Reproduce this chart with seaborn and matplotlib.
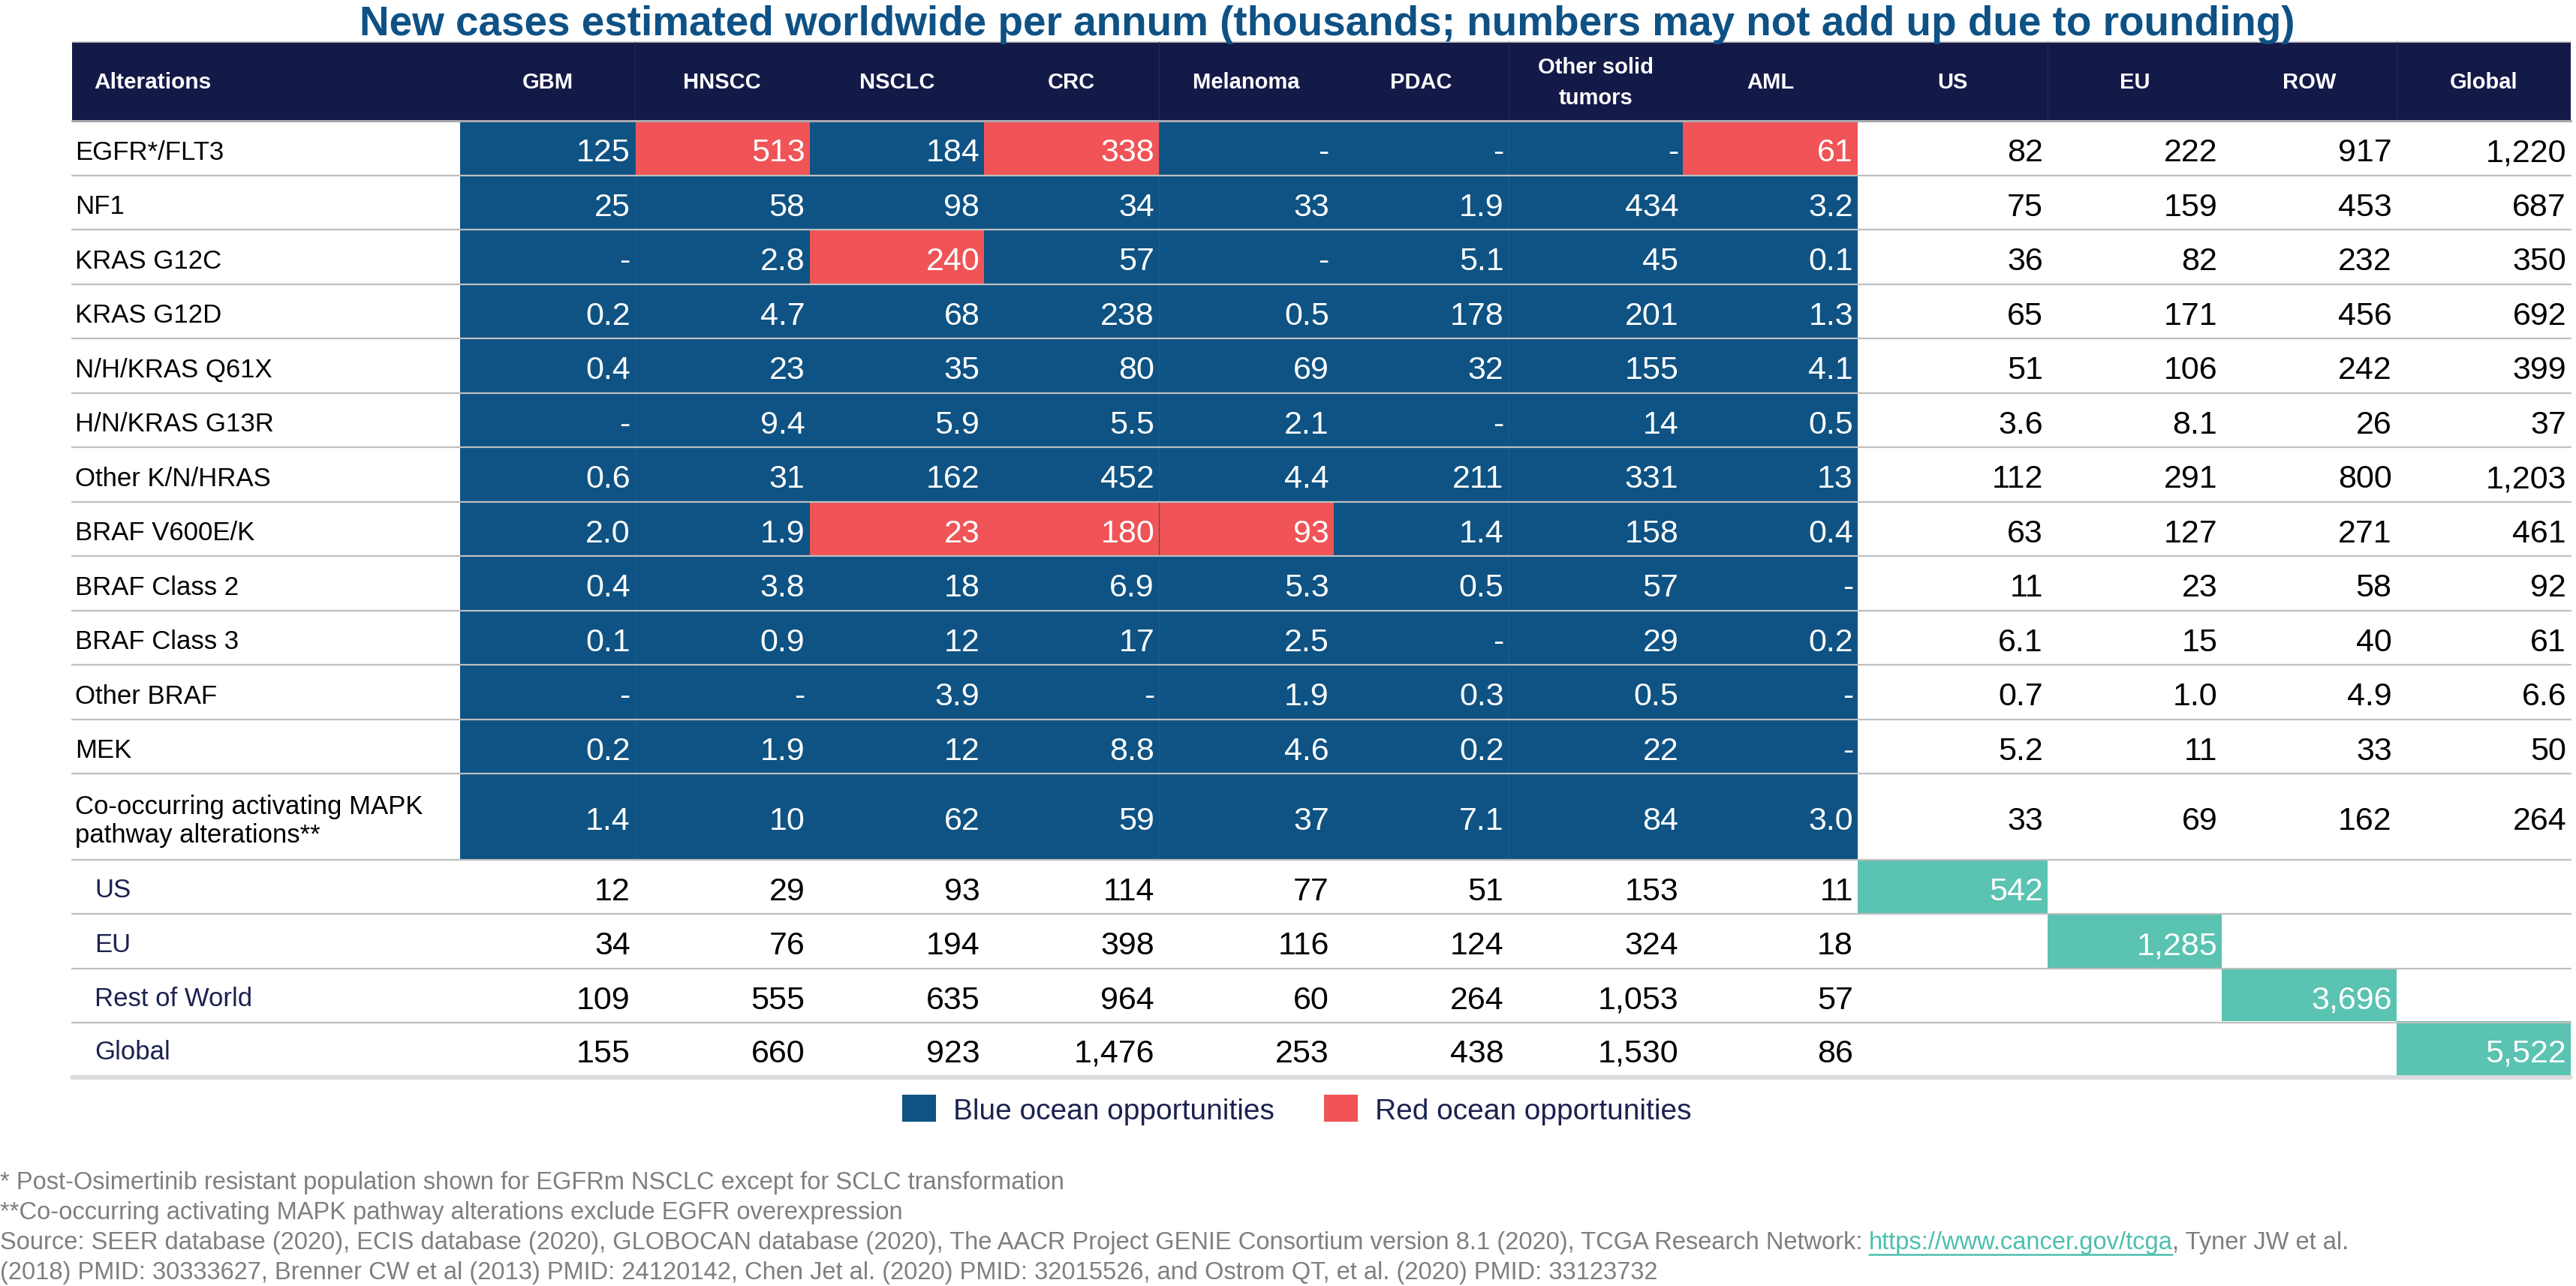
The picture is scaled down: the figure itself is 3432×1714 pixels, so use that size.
import matplotlib
matplotlib.use("Agg")
import matplotlib.pyplot as plt
import seaborn as sns
import numpy as np
import pandas as pd
from matplotlib.colors import ListedColormap
from matplotlib.patches import Rectangle, Patch
from matplotlib import font_manager

# ---- data (thousands of new cases per annum) ----
tumors = ["GBM", "HNSCC", "NSCLC", "CRC", "Melanoma", "PDAC", "Other solid\ntumors", "AML"]
regions = ["US", "EU", "ROW", "Global"]
alterations = ["EGFR*/FLT3", "NF1", "KRAS G12C", "KRAS G12D", "N/H/KRAS Q61X", "H/N/KRAS G13R",
               "Other K/N/HRAS", "BRAF V600E/K", "BRAF Class 2", "BRAF Class 3", "Other BRAF", "MEK",
               "Co-occurring activating MAPK\npathway alterations**"]
nan = np.nan
tumor_cases = [
    [125, 513, 184, 338, nan, nan, nan, 61],
    [25, 58, 98, 34, 33, 1.9, 434, 3.2],
    [nan, 2.8, 240, 57, nan, 5.1, 45, 0.1],
    [0.2, 4.7, 68, 238, 0.5, 178, 201, 1.3],
    [0.4, 23, 35, 80, 69, 32, 155, 4.1],
    [nan, 9.4, 5.9, 5.5, 2.1, nan, 14, 0.5],
    [0.6, 31, 162, 452, 4.4, 211, 331, 13],
    [2.0, 1.9, 23, 180, 93, 1.4, 158, 0.4],
    [0.4, 3.8, 18, 6.9, 5.3, 0.5, 57, nan],
    [0.1, 0.9, 12, 17, 2.5, nan, 29, 0.2],
    [nan, nan, 3.9, nan, 1.9, 0.3, 0.5, nan],
    [0.2, 1.9, 12, 8.8, 4.6, 0.2, 22, nan],
    [1.4, 10, 62, 59, 37, 7.1, 84, 3.0],
]
region_cases = [
    [82, 222, 917, 1220],
    [75, 159, 453, 687],
    [36, 82, 232, 350],
    [65, 171, 456, 692],
    [51, 106, 242, 399],
    [3.6, 8.1, 26, 37],
    [112, 291, 800, 1203],
    [63, 127, 271, 461],
    [11, 23, 58, 92],
    [6.1, 15, 40, 61],
    [0.7, 1.0, 4.9, 6.6],
    [5.2, 11, 33, 50],
    [33, 69, 162, 264],
]
red_ocean = [("EGFR*/FLT3", "HNSCC"), ("EGFR*/FLT3", "CRC"), ("EGFR*/FLT3", "AML"),
             ("KRAS G12C", "NSCLC"),
             ("BRAF V600E/K", "NSCLC"), ("BRAF V600E/K", "CRC"), ("BRAF V600E/K", "Melanoma")]
region_rows = ["US", "EU", "Rest of World", "Global"]
region_tumor_totals = [
    [12, 29, 93, 114, 77, 51, 153, 11],
    [34, 76, 194, 398, 116, 124, 324, 18],
    [109, 555, 635, 964, 60, 264, 1053, 57],
    [155, 660, 923, 1476, 253, 438, 1530, 86],
]
region_grand_totals = [542, 1285, 3696, 5522]
legend_labels = ["Blue ocean opportunities", "Red ocean opportunities"]
title = "New cases estimated worldwide per annum (thousands; numbers may not add up due to rounding)"
source_pre = ("Source: SEER database (2020), ECIS database (2020), GLOBOCAN database (2020), The AACR Project "
              "GENIE Consortium version 8.1 (2020), TCGA Research Network:")
source_link = "https://www.cancer.gov/tcga"
source_post = ", Tyner JW et al."
footnotes = ["* Post-Osimertinib resistant population shown for EGFRm NSCLC except for SCLC transformation",
             "**Co-occurring activating MAPK pathway alterations exclude EGFR overexpression",
             None,
             "(2018) PMID: 30333627, Brenner CW et al (2013) PMID: 24120142, Chen Jet al. (2020) PMID: 32015526, "
             "and Ostrom QT, et al. (2020) PMID: 33123732"]

# ---- style ----
BLUE, RED, TEAL = "#0E5384", "#F05456", "#5AC3B1"
NAVY, LABEL_NAVY, TITLE_C = "#141A48", "#1B2150", "#0E5185"
GRID, FOOT, LINK = "#BFBFBF", "#7F7F7F", "#4DBFAE"

sns.set_theme(style="white")
installed = {f.name for f in font_manager.fontManager.ttflist}
FONT = "Liberation Sans Narrow" if "Liberation Sans Narrow" in installed else "Liberation Sans"
plt.rcParams["font.family"] = [FONT, "DejaVu Sans"]

# ---- build table ----
all_cols = tumors + regions
body = pd.DataFrame(np.hstack([tumor_cases, region_cases]), index=alterations, columns=all_cols)
codes = pd.DataFrame(0, index=alterations + region_rows, columns=all_cols)
codes.loc[alterations, tumors] = 1
for alt, tum in red_ocean:
    codes.loc[alt, tum] = 2
for i, r in enumerate(region_rows):
    codes.loc[r, regions[i]] = 3


def fmt(v):
    if v is None:
        return ""
    if np.isnan(v):
        return "-"
    return f"{v:.1f}" if v < 10 else f"{v:,.0f}"


texts = []
for alt in alterations:
    texts.append([fmt(v) for v in body.loc[alt]])
for i, r in enumerate(region_rows):
    row = [fmt(v) for v in region_tumor_totals[i]]
    row += [fmt(region_grand_totals[i]) if j == i else "" for j in range(4)]
    texts.append(row)

# ---- layout (pixels) ----
W, H, DPI = 3432, 1715, 100
TABLE_L, LABEL_R, TABLE_R = 96, 613, 3425
HEAD_T, HEAD_B = 57, 162
col_edges = list(np.linspace(613, 2475, 9)) + [2728] + list(np.linspace(2728, 3425, 4)[1:])
row_edges = [HEAD_B + 72.5 * i for i in range(13)] + [1147, 1219, 1292, 1364, 1434]

fig = plt.figure(figsize=(W / DPI, H / DPI), dpi=DPI)
cmap = ListedColormap(["white", BLUE, RED, TEAL])

for c0, c1 in [(0, 8), (8, 9), (9, 12)]:
    for r0, r1 in [(0, 12), (12, 13), (13, 17)]:
        x0, x1 = col_edges[c0], col_edges[c1]
        y0, y1 = row_edges[r0], row_edges[r1]
        hax = fig.add_axes([x0 / W, 1 - y1 / H, (x1 - x0) / W, (y1 - y0) / H])
        sns.heatmap(codes.iloc[r0:r1, c0:c1], cmap=cmap, vmin=-0.5, vmax=3.5, cbar=False,
                    xticklabels=False, yticklabels=False, linewidths=0, ax=hax)
        hax.set_axis_off()
        hax.set_zorder(0)

ax = fig.add_axes([0, 0, 1, 1])
ax.set_xlim(0, W)
ax.set_ylim(H, 0)
ax.axis("off")
ax.set_zorder(2)

# header
ax.add_patch(Rectangle((TABLE_L, HEAD_T), TABLE_R - TABLE_L, HEAD_B - HEAD_T, color=NAVY, lw=0))
ax.plot([TABLE_L, TABLE_R], [HEAD_T, HEAD_T], color="#C8C8C8", lw=1.2)
ax.text(125, (HEAD_T + HEAD_B) / 2 + 1, "Alterations", color="white", fontsize=21.5, fontweight="bold",
        ha="left", va="center")
for j, c in enumerate(all_cols):
    xc = (col_edges[j] + col_edges[j + 1]) / 2
    ax.text(xc, (HEAD_T + HEAD_B) / 2 + 1, c, color="white", fontsize=21, fontweight="bold",
            ha="center", va="center", linespacing=1.55)

# faint cell seams
for x in [col_edges[1], col_edges[4], col_edges[6]]:
    ax.plot([x, x], [HEAD_T, HEAD_B], color="#222A5A", lw=0.8)
    ax.plot([x, x], [HEAD_B, row_edges[13]], color="#1A5C8E", lw=0.8)
for x in [col_edges[9], col_edges[11]]:
    ax.plot([x, x], [HEAD_T, HEAD_B], color="#222A5A", lw=0.8)

# row separators
ax.plot([TABLE_L, TABLE_R], [HEAD_B, HEAD_B], color="#A9A9B0", lw=2.2)
for y in row_edges[1:-1]:
    ax.plot([TABLE_L, TABLE_R], [y, y], color=GRID, lw=1.6)
ax.plot([TABLE_L, TABLE_R], [row_edges[-1] + 3, row_edges[-1] + 3], color="#DCDCDF", lw=4.3)

# row labels
for i, alt in enumerate(alterations):
    yc = (row_edges[i] + row_edges[i + 1]) / 2
    ax.text(100, yc + 5, alt, color="black", fontsize=25, ha="left", va="center")
for i, r in enumerate(region_rows):
    yc = (row_edges[13 + i] + row_edges[14 + i]) / 2
    ax.text(126, yc + 4, r, color=LABEL_NAVY, fontsize=25, ha="left", va="center")

# cell values
for i in range(len(texts)):
    yc = (row_edges[i] + row_edges[i + 1]) / 2
    for j, s in enumerate(texts[i]):
        if not s:
            continue
        code = codes.iat[i, j]
        ax.text(col_edges[j + 1] - 6, yc + 6, s, color="white" if code else "black",
                fontsize=31, ha="right", va="center")

# title
ax.text(1768, 47, title, color=TITLE_C, fontsize=39.5, fontweight="bold", ha="center", va="baseline")

# legend
handles = [Patch(facecolor=BLUE, edgecolor="none", label=legend_labels[0]),
           Patch(facecolor=RED, edgecolor="none", label=legend_labels[1])]
ax.legend(handles=handles, loc="center", bbox_to_anchor=(1728, 1480), bbox_transform=ax.transData,
          ncol=2, frameon=False, fontsize=28, handlelength=1.15, handleheight=1.05,
          handletextpad=0.6, columnspacing=1.7, labelcolor=LABEL_NAVY)

# footnotes
FS = 23.5
foot_y = [1577, 1617, 1657, 1697]
for y, s in zip(foot_y, footnotes):
    if s:
        ax.text(0, y, s, color=FOOT, fontsize=FS, ha="left", va="center")

t1 = ax.text(0, foot_y[2], source_pre, color=FOOT, fontsize=FS, ha="left", va="center")
fig.canvas.draw()
renderer = fig.canvas.get_renderer()
inv = ax.transData.inverted()
x_end = inv.transform((t1.get_window_extent(renderer).x1, 0))[0]
t2 = ax.text(x_end + 8, foot_y[2], source_link, color=LINK, fontsize=FS, ha="left", va="center")
bb2 = t2.get_window_extent(renderer)
lx0, lx1 = inv.transform((bb2.x0, 0))[0], inv.transform((bb2.x1, 0))[0]
ax.plot([lx0, lx1], [foot_y[2] + 16, foot_y[2] + 16], color=LINK, lw=1.8)
ax.text(lx1, foot_y[2], source_post, color=FOOT, fontsize=FS, ha="left", va="center")

fig.savefig("out.png", dpi=DPI)
